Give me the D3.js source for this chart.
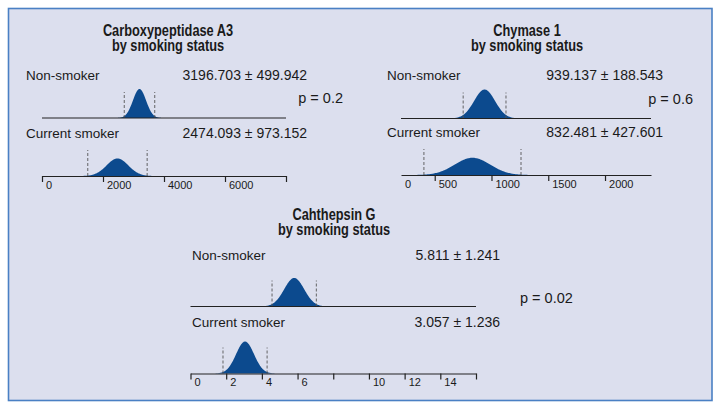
<!DOCTYPE html>
<html>
<head>
<meta charset="utf-8">
<script src="https://cdn.jsdelivr.net/npm/d3@7"></script>
<style>
  body { margin: 0; background: #fff; }
  text { font-family: "Liberation Sans", Arial, sans-serif; fill: #1a1a1a; }
  .title { font-weight: bold; font-size: 16px; }
  .lbl { font-size: 13.5px; }
  .num { font-size: 14px; }
  .axis text { font-size: 11px; }
  .axis path, .axis line { stroke: #222; stroke-width: 1.2; }
</style>
</head>
<body>
<svg width="721" height="410"></svg>
<script>
// data
var titles = ["Carboxypeptidase A3", "Chymase 1", "Cahthepsin G"];
var subtitle = "by smoking status";
var groups = ["Non-smoker", "Current smoker"];
var means = [[3196.703, 2474.093], [939.137, 832.481], [5.811, 3.057]];
var sds = [[499.942, 973.152], [188.543, 427.601], [1.241, 1.236]];
// spread of the drawn curves (narrower than the SD shown by the dashed lines)
var curveSpread = [[215, 355], [92, 155], [0.56, 0.5]];
var pValues = ["0.2", "0.6", "0.02"];
var domains = [[0, 8000], [203, 2405], [0, 16]];
var tickVals = [[0, 2000, 4000, 6000, 8000], [203, 500, 1000, 1500, 2000], [0, 2, 4, 6, 8, 10, 12, 14, 16]];
var tickLabels = [["0", "2000", "4000", "6000", ""], ["0", "500", "1000", "1500", "2000"],
                  ["0", "2", "4", "6", "", "10", "12", "14", ""]];
var noTickMark = [[], [0], []];

var svg = d3.select("svg");

// background box
svg.append("rect")
    .attr("x", 8.5).attr("y", 8.5)
    .attr("width", 703.5).attr("height", 392)
    .attr("fill", "#dcdfee")
    .attr("stroke", "#4a80c4")
    .attr("stroke-width", 1.6);

// layout of each panel
var layout = [
  {x0: 42, x1: 286, yTop: 118, yBot: 176, titleX: 168, titleY: 36, labX: 26, labY: 80, statX: 307, pX: 343, pY: 103, pAnchor: "end", h: 29},
  {x0: 401, x1: 651, yTop: 118.5, yBot: 175, titleX: 527, titleY: 36, labX: 387, labY: 80, statX: 663, pX: 693, pY: 103.5, pAnchor: "end", h: 29},
  {x0: 190.5, x1: 476, yTop: 306.5, yBot: 373.5, titleX: 334, titleY: 220, labX: 192, labY: 260, statX: 500, pX: 520, pY: 303, pAnchor: "start", h: 32}
];

var fmt = d3.format(".3f");

function pdf(v, m, s) {
  return Math.exp(-0.5 * Math.pow((v - m) / s, 2)) / (s * Math.sqrt(2 * Math.PI));
}

layout.forEach(function(L, i) {
  var g = svg.append("g");
  var x = d3.scaleLinear().domain(domains[i]).range([L.x0, L.x1]);

  var maxPdf = d3.max(curveSpread[i], function(s) { return 1 / (s * Math.sqrt(2 * Math.PI)); });
  var y = d3.scaleLinear().domain([0, maxPdf]).range([0, L.h]);

  // condensed bold titles
  [titles[i], subtitle].forEach(function(t, k) {
    g.append("text").attr("class", "title")
        .attr("transform", "translate(" + L.titleX + "," + (L.titleY + k * 15) + ") scale(0.8,1)")
        .attr("text-anchor", "middle").text(t);
  });

  var bases = [L.yTop, L.yBot];

  groups.forEach(function(name, j) {
    var base = bases[j];
    var labY = j === 0 ? L.labY : L.labY + (L.yBot - L.yTop);
    g.append("text").attr("class", "lbl")
        .attr("x", L.labX).attr("y", labY).text(name);
    g.append("text").attr("class", "num")
        .attr("x", L.statX).attr("y", labY)
        .attr("text-anchor", "end")
        .text(fmt(means[i][j]) + " \u00b1 " + fmt(sds[i][j]));

    var m = means[i][j], s = curveSpread[i][j];
    var pts = d3.range(-3.3, 3.301, 0.05).map(function(k) { return m + k * s; });
    var area = d3.area()
        .x(function(v) { return x(v); })
        .y0(base)
        .y1(function(v) { return base - y(pdf(v, m, s)); });
    g.append("path").datum(pts)
        .attr("d", area)
        .attr("fill", "#0c4a8e");

    [m - sds[i][j], m + sds[i][j]].forEach(function(v) {
      g.append("line")
          .attr("x1", x(v)).attr("x2", x(v))
          .attr("y1", base).attr("y2", base - 26)
          .attr("stroke", "#555")
          .attr("stroke-width", 0.9)
          .attr("stroke-dasharray", "3,2");
    });
  });

  // upper baseline
  g.append("line")
      .attr("x1", L.x0).attr("x2", L.x1)
      .attr("y1", L.yTop).attr("y2", L.yTop)
      .attr("stroke", "#222").attr("stroke-width", 1.2);

  // bottom axis
  var ax = g.append("g")
      .attr("class", "axis")
      .attr("transform", "translate(0," + L.yBot + ")")
      .call(d3.axisBottom(x)
          .tickValues(tickVals[i])
          .tickFormat(function(d, k) { return tickLabels[i][k]; })
          .tickSize(6)
          .tickSizeOuter(0));
  ax.selectAll(".tick text")
      .attr("text-anchor", "start")
      .attr("x", 3.5).attr("y", 5).attr("dy", "0.71em")
      .style("fill", "#1a1a1a");
  ax.selectAll(".tick line")
      .attr("display", function(d, k) { return noTickMark[i].indexOf(k) >= 0 ? "none" : null; });

  g.append("text").attr("class", "num")
      .style("font-size", "14.5px")
      .attr("x", L.pX).attr("y", L.pY)
      .attr("text-anchor", L.pAnchor)
      .text("p = " + pValues[i]);
});
</script>
</body>
</html>
